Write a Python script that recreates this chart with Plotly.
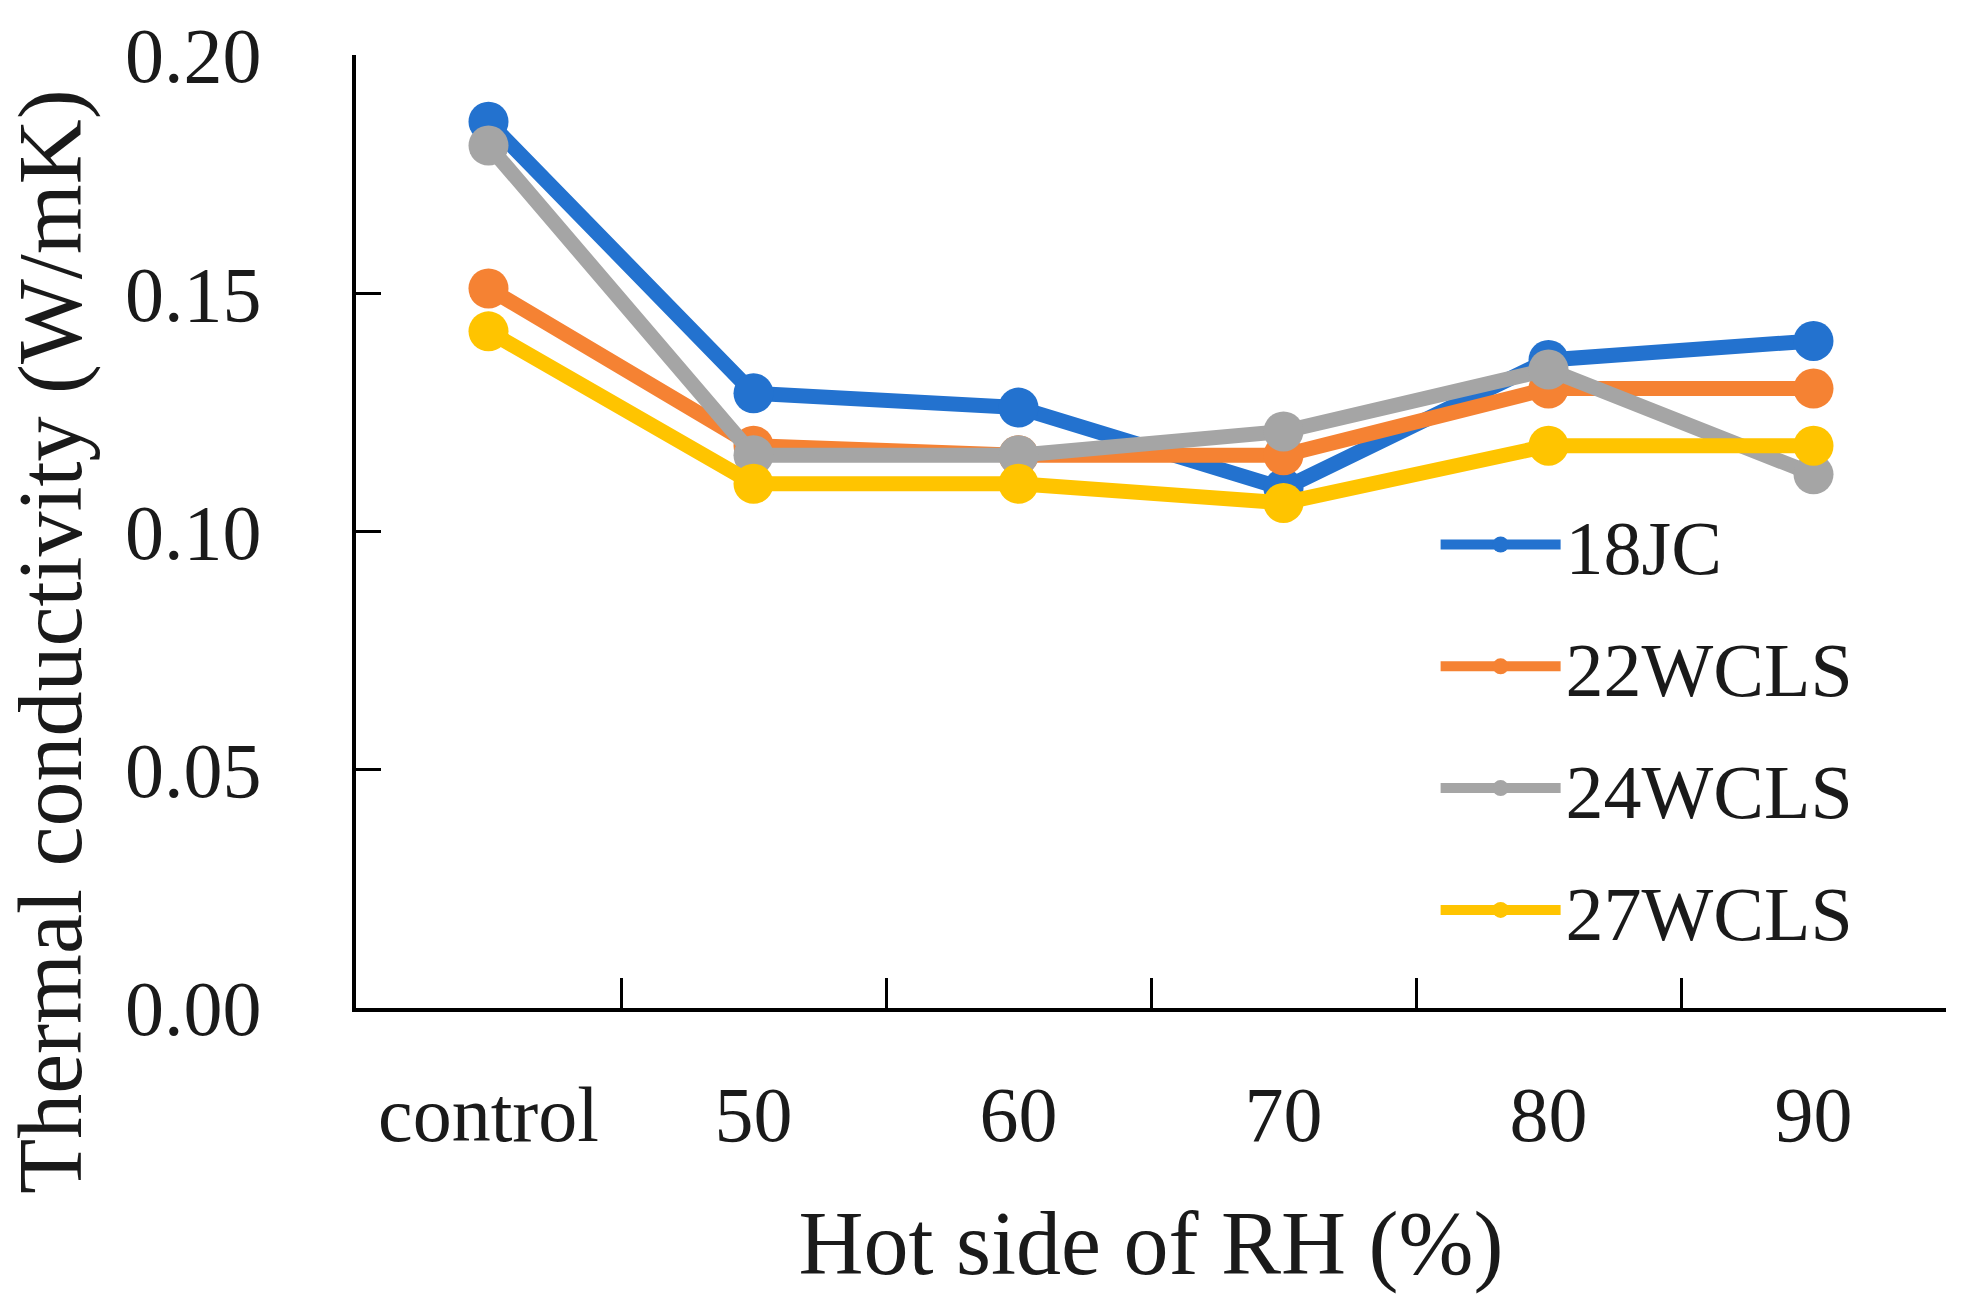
import plotly.graph_objects as go

categories = ["control", "50", "60", "70", "80", "90"]
s_18JC = [0.186, 0.129, 0.126, 0.109, 0.136, 0.140]
s_22WCLS = [0.151, 0.118, 0.116, 0.116, 0.130, 0.130]
s_24WCLS = [0.181, 0.116, 0.116, 0.121, 0.134, 0.112]
s_27WCLS = [0.142, 0.110, 0.110, 0.106, 0.118, 0.118]

series = [
    ("18JC", s_18JC, "#2372CF"),
    ("22WCLS", s_22WCLS, "#F58233"),
    ("24WCLS", s_24WCLS, "#A5A5A5"),
    ("27WCLS", s_27WCLS, "#FFC400"),
]

FONT = "Liberation Serif"
fig = go.Figure()
for name, vals, col in series:
    fig.add_trace(go.Scatter(
        x=categories, y=vals, name=name, mode="lines+markers",
        line=dict(color=col, width=15),
        marker=dict(color=col, size=40),
        legendgroup=name,
    ))

fig.update_layout(
    width=1971, height=1313,
    margin=dict(l=356, r=25, t=55, b=305),
    plot_bgcolor="white", paper_bgcolor="white",
    font=dict(family=FONT, color="#1a1a1a", size=76),
    showlegend=True,
    legend=dict(
        x=0.679, y=0.545, xanchor="left", yanchor="top",
        bgcolor="rgba(0,0,0,0)", font=dict(size=76, family=FONT),
        tracegroupgap=20, itemwidth=120,
    ),
    annotations=[dict(
        text="Thermal conductivity (W/mK)", xref="paper", yref="paper",
        x=-0.192, y=0.385, xanchor="center", yanchor="middle",
        textangle=-90, showarrow=False, font=dict(size=90, family=FONT),
    )],
)
fig.update_xaxes(
    type="category", showline=True, linecolor="black", linewidth=4,
    ticks="inside", tickson="boundaries", ticklen=30, tickwidth=3, tickcolor="black",
    showgrid=False, zeroline=False, ticklabelstandoff=35,
    tickfont=dict(size=78, family=FONT),
    title=dict(text="Hot side of RH (%)", font=dict(size=90, family=FONT), standoff=55),
    range=[-0.5, 5.5],
)
fig.update_yaxes(
    range=[0, 0.20], dtick=0.05, tickformat=".2f",
    showline=True, linecolor="black", linewidth=4,
    ticks="inside", ticklen=25, tickwidth=3, tickcolor="black",
    showgrid=False, zeroline=False, ticklabelstandoff=75,
    tickfont=dict(size=78, family=FONT),
)
fig.write_html("out.html")
